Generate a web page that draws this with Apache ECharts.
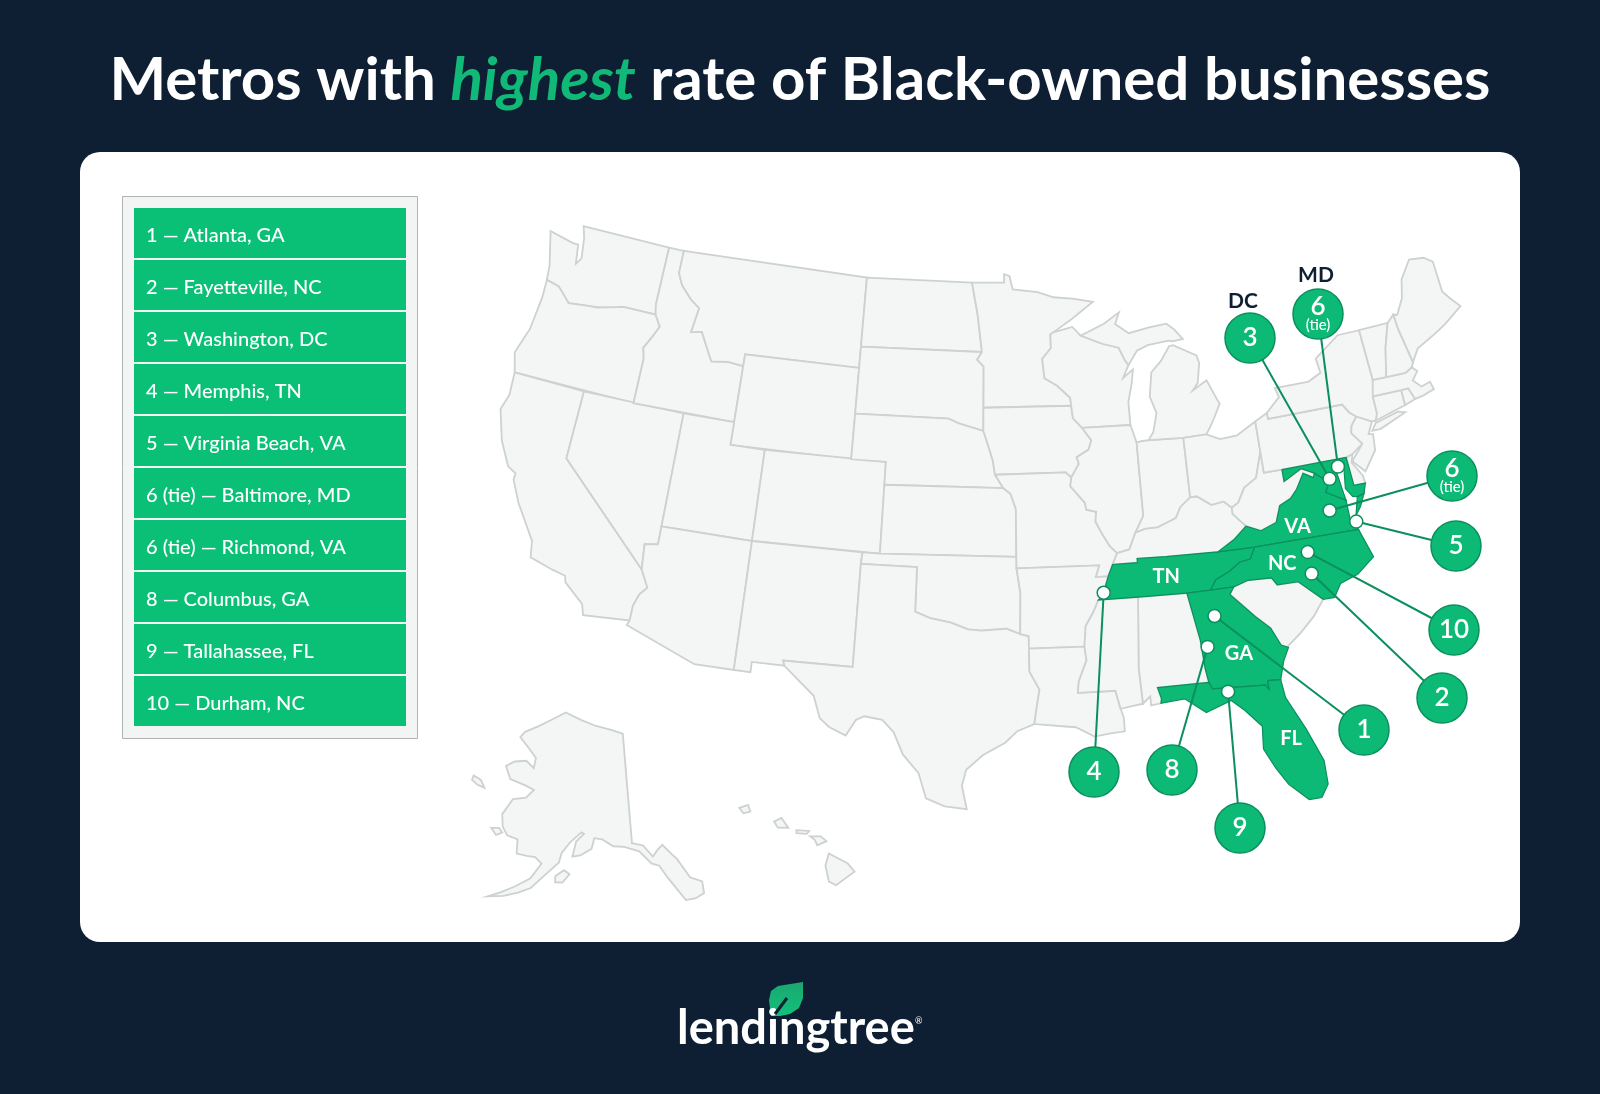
<!DOCTYPE html>
<html>
<head>
<meta charset="utf-8">
<title>Metros with highest rate of Black-owned businesses</title>
<script src="https://cdn.jsdelivr.net/npm/echarts@6/dist/echarts.min.js"></script>
<style>
  html, body { margin: 0; padding: 0; background: #0f1f33; }
  #main { width: 1600px; height: 1094px; }
</style>
</head>
<body>
<div id="main"></div>
<script>
// ranking, same order everywhere
const ranks = ['1', '2', '3', '4', '5', '6 (tie)', '6 (tie)', '8', '9', '10'];
const metros = ['Atlanta, GA', 'Fayetteville, NC', 'Washington, DC', 'Memphis, TN', 'Virginia Beach, VA',
  'Baltimore, MD', 'Richmond, VA', 'Columbus, GA', 'Tallahassee, FL', 'Durham, NC'];
// lon/lat of each metro
const metroCoords = [[-84.3, 33.85], [-78.9, 35.05], [-76.95, 38.95], [-90.0, 35.3], [-76.0, 36.9],
  [-76.35, 39.4], [-77.3, 37.6], [-84.85, 32.55], [-84.1, 30.5], [-78.9, 36.0]];
const badgeTags = ['', '', 'DC', '', '', 'MD', '', '', '', ''];

const highlighted = ['TN', 'VA', 'NC', 'MD', 'GA', 'FL'];
const stateLabels = ['TN', 'VA', 'NC', 'GA', 'FL'];
const stateLabelCoords = [[-86.6, 35.78], [-79.2, 37.15], [-80.35, 35.7], [-83.3, 32.1], [-81.35, 28.1]];

// state outlines, lon/lat rings (rough, read from an ordinary US map)
const WA = [[[-124.7,48.38],[-123.1,48.15],[-122.75,48.15],[-122.55,47.3],[-122.3,47.6],[-122.5,48.5],[-122.75,49],[-117.03,49],[-117.04,46.42],[-116.92,45.99],[-118.98,46],[-119.3,45.93],[-120.5,45.7],[-121.2,45.65],[-122.3,45.55],[-122.8,45.9],[-123.2,46.15],[-124,46.27],[-124.1,46.9]]];
const OR = [[[-124,46.27],[-123.2,46.15],[-122.8,45.9],[-122.3,45.55],[-121.2,45.65],[-120.5,45.7],[-119.3,45.93],[-118.98,46],[-116.92,45.99],[-116.5,45.5],[-116.85,44.95],[-117.2,44.45],[-117.03,44],[-117.03,42],[-124.2,42],[-124.55,42.84],[-124.1,44],[-123.95,45.5]]];
const CA = [[[-124.2,42],[-120,42],[-120,39],[-114.63,35],[-114.15,34.27],[-114.5,33.9],[-114.7,33.4],[-114.72,32.72],[-117.12,32.53],[-117.3,33],[-118.4,33.75],[-118.5,34.03],[-119.2,34.15],[-120.5,34.45],[-120.65,35.15],[-121.9,36.6],[-122.5,37.5],[-122.5,37.8],[-123,38],[-123.75,39],[-124.35,40.3],[-124.1,41]]];
const NV = [[[-120,42],[-114.04,42],[-114.04,36.2],[-114.75,36.1],[-114.63,35],[-120,39]]];
const ID = [[[-117.03,49],[-116.05,49],[-116.05,48],[-115.7,47.5],[-114.95,46.95],[-114.35,46.65],[-114.55,45.55],[-113.9,45.65],[-113.45,45.05],[-113,44.45],[-112,44.55],[-111.05,44.48],[-111.05,42],[-117.03,42],[-117.03,44],[-117.2,44.45],[-116.85,44.95],[-116.5,45.5],[-116.92,45.99],[-117.04,46.42]]];
const MT = [[[-116.05,49],[-104.05,49],[-104.05,45],[-111.05,45],[-111.05,44.48],[-112,44.55],[-113,44.45],[-113.45,45.05],[-113.9,45.65],[-114.55,45.55],[-114.35,46.65],[-114.95,46.95],[-115.7,47.5],[-116.05,48]]];
const WY = [[[-111.05,45],[-104.05,45],[-104.05,41],[-111.05,41]]];
const UT = [[[-114.04,42],[-111.05,42],[-111.05,41],[-109.05,41],[-109.05,37],[-114.04,37]]];
const CO = [[[-109.05,41],[-102.05,41],[-102.05,37],[-109.05,37]]];
const AZ = [[[-114.04,37],[-109.05,37],[-109.05,31.33],[-111.07,31.33],[-114.82,32.5],[-114.72,32.72],[-114.7,33.4],[-114.5,33.9],[-114.15,34.27],[-114.63,35],[-114.75,36.1],[-114.04,36.2]]];
const NM = [[[-109.05,37],[-103,37],[-103.04,36.5],[-103.06,32],[-106.62,32],[-106.53,31.78],[-108.2,31.78],[-108.2,31.33],[-109.05,31.33]]];
const ND = [[[-104.05,49],[-97.23,49],[-96.85,47.6],[-96.56,45.94],[-104.05,45.94]]];
const SD = [[[-104.05,45.94],[-96.56,45.94],[-96.85,45.6],[-96.45,45.3],[-96.45,43.5],[-96.45,42.49],[-97.9,42.8],[-98.5,43],[-104.05,43]]];
const NE = [[[-104.05,43],[-98.5,43],[-97.9,42.8],[-96.45,42.49],[-96.1,41.7],[-95.9,41.2],[-95.77,40.58],[-95.31,40],[-102.05,40],[-102.05,41],[-104.05,41]]];
const KS = [[[-102.05,40],[-95.31,40],[-94.9,39.75],[-94.61,39.1],[-94.62,37],[-102.05,37]]];
const OK = [[[-103,37],[-102.05,37],[-94.62,37],[-94.62,36.5],[-94.43,35.4],[-94.48,33.64],[-95.2,33.88],[-96.5,33.8],[-97.2,33.85],[-98.1,34.13],[-99.2,34.3],[-100,34.56],[-100,36.5],[-103.04,36.5]]];
const TX = [[[-103.04,36.5],[-100,36.5],[-100,34.56],[-99.2,34.3],[-98.1,34.13],[-97.2,33.85],[-96.5,33.8],[-95.2,33.88],[-94.48,33.64],[-94.04,33.55],[-94.04,33],[-94.04,32],[-93.55,31.2],[-93.7,30.5],[-93.85,29.7],[-94.7,29.4],[-95.3,28.9],[-96.4,28.35],[-97.2,27.7],[-97.4,27],[-97.15,25.96],[-98.2,26.07],[-99.1,26.4],[-99.5,27.5],[-100.3,28.3],[-100.8,29.25],[-101.4,29.77],[-102.3,29.88],[-102.7,29.7],[-103.15,28.98],[-104,29.3],[-104.5,29.65],[-104.9,30.6],[-106.53,31.78],[-106.62,32],[-103.06,32]]];
const MN = [[[-97.23,49],[-95.15,49],[-95.15,49.38],[-94.8,49.3],[-94.6,48.7],[-93,48.55],[-92,48.3],[-90.8,48.2],[-89.5,48],[-90.9,47.3],[-92.1,46.75],[-92.29,46.66],[-92.29,46.07],[-92.85,45.6],[-92.75,44.75],[-92,44.4],[-91.25,43.85],[-91.22,43.5],[-96.45,43.5],[-96.45,45.3],[-96.85,45.6],[-96.56,45.94],[-96.85,47.6]]];
const IA = [[[-96.45,43.5],[-91.22,43.5],[-91.15,42.95],[-90.64,42.51],[-90.15,41.95],[-90.34,41.55],[-91.05,41.25],[-90.95,40.95],[-91.42,40.38],[-91.73,40.61],[-95.77,40.58],[-95.9,41.2],[-96.1,41.7],[-96.45,42.49]]];
const MO = [[[-95.77,40.58],[-91.73,40.61],[-91.42,40.38],[-91.5,40],[-90.73,39.25],[-90.67,38.95],[-90.13,38.83],[-90.2,38.4],[-89.9,37.9],[-89.5,37.3],[-89.13,36.98],[-89.42,36.5],[-89.7,36],[-90.37,36],[-90.15,36.5],[-94.62,36.5],[-94.62,37],[-94.61,39.1],[-94.9,39.75],[-95.31,40]]];
const AR = [[[-94.62,36.5],[-90.15,36.5],[-90.37,36],[-89.7,36],[-89.9,35.55],[-90.1,35.13],[-90.3,35],[-90.6,34.5],[-91.05,33.9],[-91.17,33],[-94.04,33],[-94.04,33.55],[-94.48,33.64],[-94.43,35.4]]];
const LA = [[[-94.04,33],[-91.17,33],[-91.1,32.4],[-91.55,31.5],[-91.62,31],[-89.73,31],[-89.53,30.2],[-89.4,29.8],[-89.4,29.2],[-90.1,29.15],[-90.9,29.05],[-91.8,29.5],[-92.3,29.55],[-93.85,29.7],[-93.7,30.5],[-93.55,31.2],[-94.04,32]]];
const WI = [[[-92.29,46.66],[-92.1,46.75],[-90.9,46.95],[-90.4,46.55],[-89.1,46.13],[-88.1,45.9],[-87.8,45.35],[-87.6,45.1],[-88,44.55],[-87.35,44.9],[-87.5,44.3],[-87.8,43.5],[-87.8,42.49],[-90.64,42.51],[-91.15,42.95],[-91.22,43.5],[-91.25,43.85],[-92,44.4],[-92.75,44.75],[-92.85,45.6],[-92.29,46.07]]];
const IL = [[[-90.64,42.51],[-87.8,42.49],[-87.53,41.71],[-87.53,39.35],[-87.53,38.5],[-88.05,37.8],[-88.45,37.1],[-89.13,36.98],[-89.5,37.3],[-89.9,37.9],[-90.2,38.4],[-90.13,38.83],[-90.67,38.95],[-90.73,39.25],[-91.5,40],[-91.42,40.38],[-90.95,40.95],[-91.05,41.25],[-90.34,41.55],[-90.15,41.95]]];
const IN = [[[-87.53,41.71],[-87.2,41.75],[-86.82,41.76],[-84.8,41.7],[-84.82,39.1],[-85.42,38.73],[-85.75,38.27],[-86.3,38.1],[-86.8,37.95],[-87.5,37.93],[-88.05,37.8],[-87.53,38.5],[-87.53,39.35]]];
const MI = [[[-86.82,41.76],[-86.5,42.1],[-86.2,42.9],[-86.5,43.65],[-86.25,44.7],[-85.6,45.15],[-85,45.75],[-84.75,45.78],[-83.4,45.2],[-83.3,44.85],[-83.55,44],[-83.9,43.7],[-83,44.07],[-82.5,43.1],[-82.42,42.98],[-82.9,42.35],[-83.15,42.05],[-83.45,41.73],[-84.8,41.7]],
  [[-90.4,46.55],[-89.1,46.13],[-88.1,45.9],[-87.8,45.35],[-87.6,45.1],[-87,45.7],[-86.3,45.9],[-85,46],[-84.75,45.95],[-84.1,46],[-84.55,46.45],[-85,46.75],[-86.1,46.67],[-87.4,46.5],[-88.2,46.95],[-87.9,47.45],[-88.9,47]]];
const OH = [[[-84.82,39.1],[-84.8,41.7],[-83.45,41.73],[-82.7,41.45],[-81.7,41.5],[-80.52,41.98],[-80.52,40.64],[-80.85,39.9],[-81,39.55],[-81.75,39.2],[-82.2,38.6],[-82.6,38.42],[-83,38.73],[-83.7,38.65],[-84.45,39.1]]];
const KY = [[[-89.42,36.5],[-89.13,36.98],[-88.45,37.1],[-88.05,37.8],[-87.5,37.93],[-86.8,37.95],[-86.3,38.1],[-85.75,38.27],[-85.42,38.73],[-84.82,39.1],[-84.45,39.1],[-83.7,38.65],[-83,38.73],[-82.6,38.42],[-82.6,38.15],[-81.97,37.54],[-82.7,37.05],[-83.68,36.6],[-86.5,36.65],[-88.07,36.68],[-88.07,36.5]]];
const WV = [[[-82.6,38.42],[-82.2,38.6],[-81.75,39.2],[-81,39.55],[-80.85,39.9],[-80.52,40.64],[-80.52,39.72],[-79.48,39.72],[-79.48,39.2],[-78.4,39.62],[-77.72,39.32],[-77.83,39.14],[-78.35,39.4],[-78.87,38.77],[-79.3,38.42],[-79.95,38.2],[-80.3,37.5],[-81.2,37.25],[-81.97,37.54],[-82.6,38.15]]];
const DE = [[[-75.79,39.72],[-75.4,39.8],[-75.55,39.45],[-75.1,38.8],[-75.05,38.45],[-75.7,38.46]]];
const PA = [[[-80.52,41.98],[-79.76,42.27],[-79.76,42],[-75.35,42],[-75.05,41.6],[-74.7,41.36],[-75.1,41],[-75.2,40.7],[-74.72,40.15],[-75.4,39.8],[-75.79,39.72],[-79.48,39.72],[-80.52,39.72],[-80.52,40.64]]];
const NJ = [[[-74.7,41.36],[-73.9,41],[-74.25,40.5],[-74,40.45],[-74.1,39.75],[-74.9,38.95],[-75.5,39.5],[-74.72,40.15],[-75.2,40.7],[-75.1,41]]];
const NY = [[[-79.76,42.27],[-79.76,42],[-75.35,42],[-75.05,41.6],[-74.7,41.36],[-73.9,41],[-73.65,41],[-73.5,41.3],[-73.5,42.05],[-73.27,42.75],[-73.35,45],[-74.7,45],[-76.3,44.2],[-76.2,43.55],[-77,43.28],[-79.05,43.27],[-78.9,42.85]],
  [[-74,40.6],[-73.7,40.9],[-72.3,41.15],[-71.9,41.05],[-73.5,40.6]]];
const CT = [[[-73.5,42.05],[-71.8,42.02],[-71.8,41.35],[-73.65,41],[-73.5,41.3]]];
const RI = [[[-71.8,42.02],[-71.38,42.02],[-71.15,41.5],[-71.8,41.35]]];
const MA = [[[-73.5,42.05],[-73.27,42.75],[-72.46,42.73],[-71.3,42.7],[-70.85,42.87],[-70.6,42.65],[-71,42.3],[-70.6,41.95],[-70.05,42.05],[-69.95,41.7],[-70.65,41.55],[-71.15,41.5],[-71.38,42.02],[-71.8,42.02]]];
const VT = [[[-73.27,42.75],[-72.46,42.73],[-72.05,44],[-71.55,45.01],[-73.35,45]]];
const NH = [[[-72.46,42.73],[-71.3,42.7],[-70.85,42.87],[-70.7,43.07],[-71.03,44.65],[-71.08,45.3],[-71.55,45.01],[-72.05,44]]];
const ME = [[[-70.7,43.07],[-70.2,43.6],[-69,44],[-68.2,44.3],[-67,44.85],[-67.45,45.3],[-67.8,45.7],[-67.8,47.07],[-68.3,47.35],[-69.2,47.45],[-70,46.7],[-70.3,45.9],[-70.85,45.25],[-71.08,45.3],[-71.03,44.65]]];
const SC = [[[-83.1,35],[-82.3,35.2],[-81.04,35.15],[-80.8,34.82],[-79.68,34.8],[-78.55,33.86],[-79.2,33.2],[-80,32.6],[-80.85,32.05],[-81.15,32.2],[-81.5,33],[-82.2,33.6],[-83.35,34.7]]];
const AL = [[[-88.2,35],[-85.6,34.98],[-85.18,32.87],[-85.1,31.6],[-85,31],[-87.6,31],[-87.45,30.5],[-87.5,30.3],[-88,30.25],[-88,30.65],[-88.4,30.35],[-88.47,31.9]]];
const MS = [[[-90.3,35],[-88.2,35],[-88.47,31.9],[-88.4,30.35],[-89.53,30.2],[-89.73,31],[-91.62,31],[-91.55,31.5],[-91.1,32.4],[-91.17,33],[-91.05,33.9],[-90.6,34.5]]];
const AK = [[[-141,69.65],[-141,60.3],[-139,60],[-137.5,58.95],[-136.5,59.45],[-135.5,59.8],[-134,58.8],[-133.4,58.4],[-131.8,56.6],[-130,56],[-130.15,55],[-131.6,54.75],[-133.2,54.8],[-134,55.6],[-135.5,57],[-136.6,58.1],[-137.9,58.4],[-139.8,59.55],[-142.5,60.05],[-144.5,60.15],[-146.5,60.75],[-148,60.85],[-148.5,59.95],[-150.5,59.35],[-151.9,59.2],[-151.4,60.5],[-150,61.2],[-150.5,61.3],[-152.5,60.4],[-153.9,59.4],[-154.2,58.6],[-156.5,57.3],[-158.4,56.1],[-160.3,55.5],[-162.5,54.95],[-164.9,54.55],[-163,55.2],[-161,55.95],[-158.7,56.9],[-157.2,58.3],[-158.5,58.75],[-160,58.7],[-161.8,58.7],[-162.2,59.9],[-164.2,60],[-165.4,60.6],[-166.1,61.6],[-164.8,63.1],[-162.3,63.5],[-161,64.3],[-163,64.5],[-166.4,64.65],[-168.1,65.6],[-166.5,66.2],[-164,66.55],[-162,66.1],[-162,67],[-164,67.6],[-166.8,68.35],[-166,68.9],[-163,69.7],[-160,70.5],[-156.5,71.35],[-152,70.85],[-148,70.4],[-144,70.05]],
  [[-154.6,57.4],[-153.2,58],[-152.2,57.7],[-153.3,56.95],[-154.5,56.9]],
  [[-173.9,63.8],[-172.2,63.7],[-171,63.2],[-172.5,63.2],[-173.9,63.4]],
  [[-167.4,60.2],[-166,60.4],[-165.2,60.1],[-166.2,59.75]]];
const HI = [[[-155.9,20.25],[-155.1,19.85],[-154.8,19.5],[-155.6,18.95],[-155.9,19.1],[-156.05,19.75]],
  [[-156.7,20.95],[-156.25,20.95],[-156,20.75],[-156.4,20.58],[-156.5,20.8]],
  [[-157.3,21.2],[-156.75,21.17],[-156.85,21.05],[-157.3,21.08]],
  [[-158.27,21.55],[-157.95,21.7],[-157.65,21.3],[-158.1,21.3]],
  [[-159.78,22.1],[-159.4,22.23],[-159.3,21.95],[-159.6,21.88]]];
// highlighted ones last so their borders stay on top
const TN = [[[-89.7,36],[-89.42,36.5],[-88.07,36.5],[-88.07,36.68],[-86.5,36.65],[-83.68,36.6],[-81.68,36.59],[-82,36.1],[-82.6,36.03],[-83.2,35.7],[-84,35.4],[-84.32,34.99],[-85.6,34.98],[-88.2,35],[-90.3,35],[-90.1,35.13],[-89.9,35.55]]];
const VA = [[[-83.68,36.6],[-82.7,37.05],[-81.97,37.54],[-81.2,37.25],[-80.3,37.5],[-79.95,38.2],[-79.3,38.42],[-78.87,38.77],[-78.35,39.4],[-77.83,39.14],[-77.72,39.32],[-77.1,38.87],[-77.05,38.8],[-77.3,38.4],[-76.3,37.9],[-76.3,37],[-75.97,36.55],[-81.68,36.59]],
  [[-75.95,37.15],[-75.65,37.95],[-75.25,38.03],[-75.6,37.5]]];
const NC = [[[-84.32,34.99],[-84,35.4],[-83.2,35.7],[-82.6,36.03],[-82,36.1],[-81.68,36.59],[-75.97,36.55],[-75.5,35.25],[-76.5,34.65],[-77.5,34.4],[-77.95,33.85],[-78.55,33.86],[-79.68,34.8],[-80.8,34.82],[-81.04,35.15],[-82.3,35.2],[-83.1,35]]];
const MD = [[[-79.48,39.72],[-75.79,39.72],[-75.7,38.46],[-75.05,38.45],[-75.25,38.03],[-75.65,37.95],[-75.9,38],[-76.2,38.4],[-76.1,38.95],[-76,39.5],[-76.5,39.2],[-76.45,38.9],[-76.35,38.2],[-76.3,37.9],[-77.3,38.4],[-77.05,38.8],[-77.1,38.87],[-77.72,39.32],[-78.4,39.62],[-79.48,39.2]]];
const GA = [[[-85.6,34.98],[-84.32,34.99],[-83.1,35],[-83.35,34.7],[-82.2,33.6],[-81.5,33],[-81.1,32.2],[-80.75,32.05],[-81.1,31.5],[-81.4,30.71],[-82.05,30.75],[-82.05,30.36],[-82.2,30.57],[-84.86,30.7],[-85,31],[-85.1,31.6],[-85.18,32.87]]];
const FL = [[[-87.6,31],[-85,31],[-84.86,30.7],[-82.2,30.57],[-82.05,30.36],[-82.05,30.75],[-81.4,30.71],[-81.3,29.9],[-80.55,28.4],[-79.95,26.9],[-79.95,25.85],[-80.35,25.3],[-80.95,25.3],[-81.8,26.1],[-82.3,26.9],[-82.75,27.8],[-82.65,28.8],[-83.4,29.6],[-84,30.1],[-85.3,29.7],[-86.3,30.4],[-87.5,30.3],[-87.45,30.5]]];

const stateShapes = { WA, OR, CA, NV, ID, MT, WY, UT, CO, AZ, NM, ND, SD, NE, KS, OK, TX, MN, IA, MO, AR, LA, WI, IL, IN, MI, OH, KY, WV, DE, PA, NJ, NY, CT, RI, MA, VT, NH, ME, SC, AL, MS, AK, HI, TN, VA, NC, MD, GA, FL };

const C_BG = '#0f1f33', C_LEGEND = '#0abf76', C_GREEN = '#0cba75', C_EDGE = '#0b8f5d', C_LAND = '#f4f6f5', C_STATE_LINE = '#cdd1d1';

// where the map sits on the page: pixel of the projection origin + scale
const MAP_K = 1331, MAP_X = 991, MAP_Y = 518, Y_SQUEEZE = 0.981;
// rank circles are placed around the map, in page pixels
const badgePixels = [[1364,730],[1442,698],[1250,338],[1094,772],[1456,546],[1318,314],[1452,476],[1172,770],[1240,828],[1454,630]];
// DC sits a bit left of its circle, MD barely
const tagOffsets = { DC: [-7, 2], MD: [-2, 0] };

// albers conic, y down
function albers(lon0, lat0, p1, p2) {
  const rad = Math.PI / 180;
  const s1 = Math.sin(p1 * rad), s2 = Math.sin(p2 * rad);
  const n = (s1 + s2) / 2;
  const c = Math.cos(p1 * rad) * Math.cos(p1 * rad) + 2 * n * s1;
  const r0 = Math.sqrt(c - 2 * n * Math.sin(lat0 * rad)) / n;
  return {
    forward: function (p) {
      const r = Math.sqrt(c - 2 * n * Math.sin(p[1] * rad)) / n;
      const t = n * (p[0] - lon0) * rad;
      return [r * Math.sin(t), r * Math.cos(t) - r0];
    },
    inverse: function (p) {
      const dy = r0 + p[1];
      const r = Math.sqrt(p[0] * p[0] + dy * dy);
      const t = Math.atan2(p[0], dy);
      return [lon0 + t / n / rad, Math.asin((c - r * r * n * n) / (2 * n)) / rad];
    }
  };
}
const lower48 = albers(-96, 38.7, 29.5, 45.5);
const alaska = albers(-147, 58.5, 55, 65);
const hawaii = albers(-157, 19.9, 8, 18);
const AK_SCALE = 0.47, AK_STRETCH = 1.08, AK_DX = -0.294, AK_DY = 0.2615, HI_SCALE = 1.06, HI_DX = -0.141, HI_DY = 0.2585;

const usProjection = {
  project: function (p) {
    if (p[0] < -129 && p[1] > 50) {
      const a = alaska.forward(p);
      return [a[0] * AK_SCALE + AK_DX, a[1] * AK_SCALE * AK_STRETCH + AK_DY];
    }
    if (p[0] < -129) {
      const h = hawaii.forward(p);
      return [h[0] * HI_SCALE + HI_DX, h[1] * HI_SCALE + HI_DY];
    }
    const q = lower48.forward(p);
    return [q[0], q[1] * Y_SQUEEZE];
  },
  unproject: function (p) {
    return lower48.inverse([p[0], p[1] / Y_SQUEEZE]);
  }
};

const features = Object.keys(stateShapes).map(function (name) {
  return {
    type: 'Feature',
    properties: { name: name },
    geometry: { type: 'MultiPolygon', coordinates: stateShapes[name].map(function (ring) { return [ring]; }) }
  };
});
echarts.registerMap('usa', { type: 'FeatureCollection', features: features });

// layout box for the geo, from scale and origin
let minX = Infinity, maxX = -Infinity, minY = Infinity, maxY = -Infinity;
features.forEach(function (f) {
  f.geometry.coordinates.forEach(function (poly) {
    poly[0].forEach(function (p) {
      const q = usProjection.project(p);
      minX = Math.min(minX, q[0]); maxX = Math.max(maxX, q[0]);
      minY = Math.min(minY, q[1]); maxY = Math.max(maxY, q[1]);
    });
  });
});

function legendGraphics() {
  const items = [
    { type: 'rect', z: 1, shape: { x: 122.5, y: 196.5, width: 295, height: 542 }, style: { fill: '#f3f5f4', stroke: '#b0b3b3', lineWidth: 1 } }
  ];
  metros.forEach(function (m, i) {
    const y = 208 + i * 52;
    items.push({ type: 'rect', z: 2, shape: { x: 134, y: y, width: 272, height: 50 }, style: { fill: C_LEGEND } });
    items.push({
      type: 'text', z: 3, x: 146, y: y + 28,
      style: { text: ranks[i] + ' — ' + m, fill: '#fff', font: '500 20px Lato', textVerticalAlign: 'middle' }
    });
  });
  return items;
}

// rank circles have no lon/lat of their own, take them back through the projection
const badgeCoords = badgePixels.map(function (p) {
  return usProjection.unproject([(p[0] - MAP_X) / MAP_K, (p[1] - MAP_Y) / MAP_K]);
});

const chart = echarts.init(document.getElementById('main'), null, { width: 1600, height: 1094 });
chart.setOption({
  animation: false,
  backgroundColor: C_BG,
  title: {
    text: 'Metros with {h|highest} rate of Black-owned businesses',
    left: 'center', top: 46,
    textStyle: {
      color: '#fff', fontFamily: 'Lato', fontWeight: 700, fontSize: 60,
      rich: { h: { color: '#11b978', fontFamily: 'Lato', fontStyle: 'italic', fontWeight: 700, fontSize: 60 } }
    }
  },
  graphic: [
    { type: 'rect', z: 0, shape: { x: 80, y: 152, width: 1440, height: 790, r: 20 }, style: { fill: '#fff' } }
  ].concat(legendGraphics(), [
    { type: 'polygon', z: 3, shape: { points: [[771,1016],[769,1000],[771,991],[778,986],[803,982],[803,998],[799,1008],[790,1014],[780,1016]] },
      style: { fill: new echarts.graphic.LinearGradient(0, 0, 0, 1, [{ offset: 0, color: '#1aa870' }, { offset: 1, color: '#12c07c' }]) } },
    { type: 'line', z: 4, shape: { x1: 775, y1: 1014, x2: 787, y2: 998 }, style: { stroke: C_BG, lineWidth: 3 } },
    { type: 'text', z: 3, x: 677, y: 1052, style: { text: 'lendingtree', fill: '#fff', font: '700 47px Lato', textVerticalAlign: 'bottom' } },
    { type: 'text', z: 3, x: 915, y: 1021, style: { text: '®', fill: '#fff', font: '400 9px Lato', textVerticalAlign: 'middle' } }
  ]),
  geo: {
    map: 'usa',
    z: 2,
    silent: true,
    roam: false,
    aspectScale: 1,
    projection: usProjection,
    layoutCenter: [MAP_X + MAP_K * (minX + maxX) / 2, MAP_Y + MAP_K * (minY + maxY) / 2],
    layoutSize: MAP_K * (maxX - minX),
    label: { show: false },
    itemStyle: { areaColor: C_LAND, borderColor: C_STATE_LINE, borderWidth: 1.8 },
    regions: highlighted.map(function (s) {
      return { name: s, itemStyle: { areaColor: C_GREEN, borderColor: C_EDGE, borderWidth: 1.2 } };
    })
  },
  series: [
    {
      type: 'lines', coordinateSystem: 'geo', z: 3, silent: true,
      lineStyle: { color: C_EDGE, width: 2, opacity: 1 },
      data: metros.map(function (m, i) { return { coords: [metroCoords[i], badgeCoords[i]] }; })
    },
    {
      type: 'scatter', coordinateSystem: 'geo', z: 4, silent: true,
      symbolSize: 50,
      itemStyle: { color: C_GREEN, borderColor: C_EDGE, borderWidth: 1.5, opacity: 1 },
      label: {
        show: true, position: 'inside', color: '#fff', fontFamily: 'Lato',
        formatter: function (p) {
          const r = ranks[p.dataIndex];
          return r.indexOf('tie') > 0 ? '{n|' + r.split(' ')[0] + '}\n{t|(tie)}' : '{n|' + r + '}';
        },
        rich: {
          n: { color: '#fff', fontFamily: 'Lato', fontWeight: 600, fontSize: 26, lineHeight: 22 },
          t: { color: '#fff', fontFamily: 'Lato', fontWeight: 500, fontSize: 15, lineHeight: 15 }
        }
      },
      data: badgeCoords
    },
    {
      type: 'scatter', coordinateSystem: 'geo', z: 5, silent: true,
      symbolSize: 50,
      // transparent circle, but opacity stays 1 or the label fades with it
      itemStyle: { color: 'transparent', opacity: 1 },
      label: {
        show: true, position: 'top', distance: 3, color: C_BG, fontFamily: 'Lato', fontWeight: 700, fontSize: 21,
        formatter: function (p) { return p.data.value[2]; }
      },
      data: badgeCoords.map(function (c, i) { return [c[0], c[1], badgeTags[i]]; }).filter(function (d) { return d[2]; }).map(function (d) {
        return { value: d, label: { offset: tagOffsets[d[2]] } };
      })
    },
    {
      type: 'scatter', coordinateSystem: 'geo', z: 6, silent: true,
      symbolSize: 13,
      itemStyle: { color: '#fff', borderColor: C_EDGE, borderWidth: 1.5, opacity: 1 },
      data: metroCoords
    },
    {
      type: 'scatter', coordinateSystem: 'geo', z: 6, silent: true,
      symbolSize: 1,
      itemStyle: { color: 'transparent', opacity: 1 },
      label: {
        show: true, position: 'inside', color: '#fff', fontFamily: 'Lato', fontWeight: 700, fontSize: 20,
        formatter: function (p) { return p.data[2]; }
      },
      data: stateLabels.map(function (s, i) { return [stateLabelCoords[i][0], stateLabelCoords[i][1], s]; })
    }
  ]
});
</script>
</body>
</html>
